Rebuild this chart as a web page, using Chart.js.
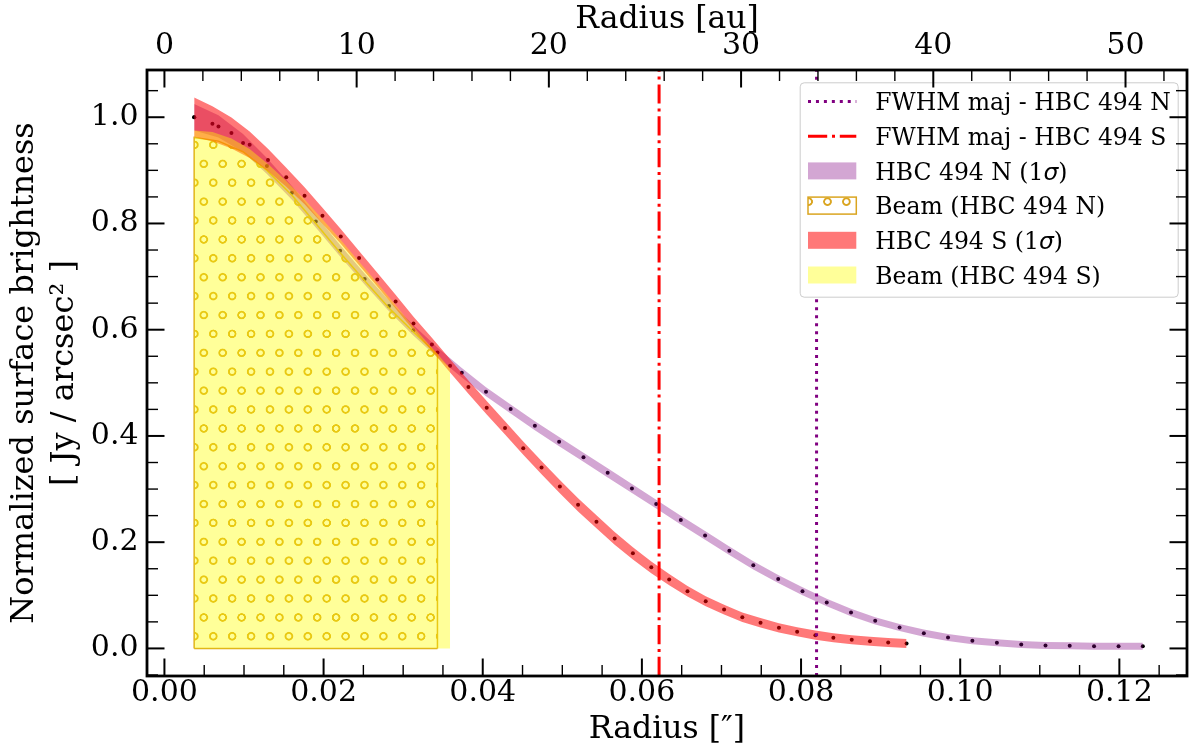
<!DOCTYPE html>
<html><head><meta charset="utf-8">
<script src="https://cdn.jsdelivr.net/npm/chart.js@4.4.1/dist/chart.umd.min.js"></script>
<style>html,body{margin:0;padding:0;background:#fff;}canvas{display:block;}</style>
</head><body>
<canvas id="c" width="1191" height="750"></canvas>
<script>
const FONT = 'DejaVu Serif';
// ---- axis ranges / ticks ----
const X_MIN = -0.00219, X_MAX = 0.1285;
const Y_MIN = -0.0519, Y_MAX = 1.0889;
const AU_PER_ARCSEC = 414;
const xTickValues = [0, 0.02, 0.04, 0.06, 0.08, 0.10, 0.12];
const xTickLabels = ['0.00', '0.02', '0.04', '0.06', '0.08', '0.10', '0.12'];
const auTickValues = [0, 10, 20, 30, 40, 50];
const auTickLabels = ['0', '10', '20', '30', '40', '50'];
const yTickValues = [0, 0.2, 0.4, 0.6, 0.8, 1.0];
const yTickLabels = ['0.0', '0.2', '0.4', '0.6', '0.8', '1.0'];
const xMinorStep = 0.005, auMinorStep = 2, yMinorStep = 0.05;

// ---- HBC 494 N profile ----
const xN = [0.00374, 0.00679, 0.00988, 0.01288, 0.01602, 0.01902, 0.02208, 0.02516, 0.02822, 0.03127,
            0.03431, 0.03737, 0.04041, 0.04351, 0.04655, 0.0496, 0.05266, 0.0557, 0.05875, 0.0618,
            0.06489, 0.06794, 0.07099, 0.074, 0.07713, 0.08018, 0.08323, 0.08628, 0.08932, 0.09238,
            0.09543, 0.09847, 0.10153, 0.10461, 0.10767, 0.11072, 0.11376, 0.11682, 0.1199, 0.12295];
const yN = [1.0, 0.9827, 0.9515, 0.9083, 0.8576, 0.8038, 0.7487, 0.6955, 0.6448, 0.5991,
            0.5571, 0.5189, 0.4832, 0.4507, 0.4194, 0.3893, 0.36, 0.3305, 0.3011, 0.2717,
            0.2417, 0.2128, 0.184, 0.1565, 0.1308, 0.1077, 0.0864, 0.0676, 0.052, 0.0394,
            0.0288, 0.0207, 0.0144, 0.0107, 0.0075, 0.0056, 0.005, 0.0043, 0.0043, 0.0043];
const sigN = [0.025, 0.021, 0.017, 0.015, 0.013, 0.0115, 0.0108, 0.0104, 0.0101, 0.0098,
              0.0094, 0.009, 0.0087, 0.0085, 0.0085, 0.0085, 0.0085, 0.0085, 0.0085, 0.0084,
              0.0083, 0.0082, 0.008, 0.0078, 0.0076, 0.0074, 0.0072, 0.007, 0.0069, 0.0068,
              0.0067, 0.0066, 0.0066, 0.0066, 0.0066, 0.0066, 0.0066, 0.0066, 0.0066, 0.0066];
// ---- HBC 494 S profile ----
const xS = [0.00374, 0.00603, 0.00842, 0.01071, 0.01301, 0.01531, 0.01761, 0.01986, 0.02216, 0.02446,
            0.02675, 0.02905, 0.0313, 0.03361, 0.0359, 0.0382, 0.0405, 0.0428, 0.04509, 0.04739,
            0.04969, 0.05198, 0.05429, 0.05658, 0.05887, 0.06118, 0.06343, 0.06573, 0.06802, 0.07033,
            0.07262, 0.07491, 0.07722, 0.07951, 0.0818, 0.08406, 0.08637, 0.08866, 0.09095, 0.09326];
const yS = [1.0, 0.9878, 0.9703, 0.9483, 0.9196, 0.8869, 0.852, 0.8144, 0.7756, 0.7349,
            0.6943, 0.653, 0.6117, 0.5722, 0.532, 0.492, 0.4531, 0.415, 0.3769, 0.3405,
            0.3048, 0.2704, 0.2385, 0.2071, 0.179, 0.1527, 0.1296, 0.1076, 0.0888, 0.0732,
            0.0588, 0.0483, 0.0389, 0.0314, 0.025, 0.0201, 0.0163, 0.0137, 0.0113, 0.0094];
const sigS = [0.037, 0.033, 0.029, 0.025, 0.021, 0.018, 0.016, 0.015, 0.014, 0.0135,
              0.013, 0.013, 0.0128, 0.0125, 0.0125, 0.0125, 0.0125, 0.0125, 0.0125, 0.0125,
              0.0125, 0.0125, 0.0122, 0.012, 0.0115, 0.011, 0.0105, 0.01, 0.0095, 0.0092,
              0.009, 0.0088, 0.0087, 0.0086, 0.0086, 0.0085, 0.0085, 0.0085, 0.0085, 0.0085];
// ---- beams (top of the beam profile at the first radii of each source) ----
const beamNTop = [0.962, 0.955, 0.935, 0.900, 0.853, 0.800, 0.745, 0.692, 0.641, 0.596, 0.553];
const beamSTop = [0.975, 0.972, 0.960, 0.940, 0.912, 0.880, 0.845, 0.808, 0.769, 0.728,
                  0.688, 0.646, 0.605, 0.566, 0.527];
// ---- FWHM major axis ----
const fwhmN = 0.08195, fwhmS = 0.06216;

const legendLabels = ['FWHM maj - HBC 494 N', 'FWHM maj - HBC 494 S', 'HBC 494 N (1σ)',
                      'Beam (HBC 494 N)', 'HBC 494 S (1σ)', 'Beam (HBC 494 S)'];

// ---- colours ----
const C_PURPLE = '#800080', C_RED = '#ff0000', C_GOLD = 'rgb(218,165,32)';
const C_NBAND = 'rgba(128,0,128,0.35)', C_SBAND = 'rgba(255,0,0,0.53)', C_BEAMS = 'rgba(255,255,0,0.4)';
const DOT_DASH = [3, 4.95], DASH_DOT = [19.2, 4.8, 3, 4.8];

const ctx0 = document.getElementById('c').getContext('2d');
function makeHatch(ctx) {
  const t = document.createElement('canvas'); t.width = 38; t.height = 76;
  const g = t.getContext('2d');
  g.strokeStyle = C_GOLD; g.lineWidth = 3.8;
  const pts = [[10.8, 63.2], [29.7, 25.4]];
  for (const [cx, cy] of pts) for (const dx of [-38, 0, 38]) for (const dy of [-76, 0, 76]) {
    g.beginPath(); g.arc(cx + dx, cy + dy, 6.8, 0, Math.PI * 2); g.stroke();
  }
  const p = ctx.createPattern(t, 'repeat');
  try { p.setTransform(new DOMMatrix().scale(18.9 / 38, 37.8 / 76)); } catch (e) {}
  return p;
}
const hatch = makeHatch(ctx0);

const band = (xs, ys, ss, sign) => xs.map((x, i) => ({x, y: ys[i] + sign * ss[i]}));
const beamPts = (xs, tops) => [{x: xs[0], y: 0}, ...tops.map((v, i) => ({x: xs[i], y: v})), {x: xs[tops.length - 1], y: 0}];
const base = {xAxisID: 'x', yAxisID: 'y', pointRadius: 0, borderWidth: 0, fill: false, tension: 0};

const datasets = [
  {...base, data: [{x: fwhmN, y: Y_MIN}, {x: fwhmN, y: Y_MAX}], borderColor: C_PURPLE, borderWidth: 3, borderDash: DOT_DASH},
  {...base, data: [{x: fwhmS, y: Y_MIN}, {x: fwhmS, y: Y_MAX}], borderColor: C_RED, borderWidth: 3, borderDash: DASH_DOT},
  {...base, data: beamPts(xS, beamSTop), backgroundColor: C_BEAMS, fill: 'origin'},
  {...base, data: band(xS, yS, sigS, 1), backgroundColor: C_SBAND, fill: '+1'},
  {...base, data: band(xS, yS, sigS, -1)},
  {...base, data: [{x: xN[0], y: 0}, {x: xN[beamNTop.length - 1], y: 0}], borderColor: C_GOLD, borderWidth: 1.5},
  {...base, data: beamPts(xN, beamNTop), backgroundColor: hatch, borderColor: C_GOLD, borderWidth: 1.5, fill: 'origin'},
  {...base, data: band(xN, yN, sigN, 1), backgroundColor: C_NBAND, fill: '+1'},
  {...base, data: band(xN, yN, sigN, -1)},
  {...base, data: xS.map((x, i) => ({x, y: yS[i]})), showLine: false, pointRadius: 2, pointBackgroundColor: '#000', pointBorderWidth: 0},
  {...base, data: xN.map((x, i) => ({x, y: yN[i]})), showLine: false, pointRadius: 2, pointBackgroundColor: '#000', pointBorderWidth: 0},
];

function drawLegend(ctx, a) {
  const W = 378, H = 214.4;
  const bx = a.right - 9.3 - W, by = a.top + 12.3;
  ctx.save();
  ctx.beginPath();
  if (ctx.roundRect) ctx.roundRect(bx + 0.5, by + 0.5, W, H, 4); else ctx.rect(bx + 0.5, by + 0.5, W, H);
  ctx.fillStyle = '#fff'; ctx.fill();
  ctx.strokeStyle = '#cccccc'; ctx.lineWidth = 1; ctx.stroke();
  const hx0 = bx + 8.3, hx1 = bx + 56.6, tx = bx + 75.6;
  const kinds = [
    {line: C_PURPLE, dash: DOT_DASH},
    {line: C_RED, dash: DASH_DOT},
    {fill: C_NBAND},
    {fill: hatch, edge: C_GOLD},
    {fill: C_SBAND},
    {fill: C_BEAMS},
  ];
  legendLabels.forEach((lab, i) => {
    const cy = by + 19.2 + i * 34.7;
    const k = kinds[i];
    if (k.line) {
      ctx.save(); ctx.strokeStyle = k.line; ctx.lineWidth = 3; ctx.setLineDash(k.dash); ctx.lineCap = 'butt';
      ctx.beginPath(); ctx.moveTo(hx0, cy); ctx.lineTo(hx1, cy); ctx.stroke(); ctx.restore();
    } else {
      ctx.fillStyle = k.fill; ctx.fillRect(hx0, cy - 8.5, hx1 - hx0, 17);
      if (k.edge) { ctx.strokeStyle = k.edge; ctx.lineWidth = 1.5; ctx.strokeRect(hx0, cy - 8.5, hx1 - hx0, 17); }
    }
    ctx.fillStyle = '#000'; ctx.textBaseline = 'alphabetic'; ctx.textAlign = 'left';
    let x = tx; const yb = cy + 8.6;
    for (const part of lab.split(/(σ)/)) {
      if (!part) continue;
      ctx.font = part === 'σ' ? 'italic 23.5px "DejaVu Sans"' : '23.5px "DejaVu Serif"';
      ctx.fillText(part, x, yb); x += ctx.measureText(part).width;
    }
  });
  ctx.restore();
}

const framePlugin = {
  id: 'frame',
  afterDatasetsDraw(chart) {
    const {ctx, chartArea: a, scales} = chart;
    drawLegend(ctx, a);
    ctx.save();
    ctx.strokeStyle = '#000'; ctx.lineCap = 'butt';
    const seg = (x1, y1, x2, y2, w) => { ctx.lineWidth = w; ctx.beginPath(); ctx.moveTo(x1, y1); ctx.lineTo(x2, y2); ctx.stroke(); };
    const MAJ = 17.5, MIN = 11, WMAJ = 2, WMIN = 1.4;
    const near = (v, arr, eps) => arr.some(t => Math.abs(t - v) < eps);
    xTickValues.forEach(v => { const p = scales.x.getPixelForValue(v); seg(p, a.bottom, p, a.bottom - MAJ, WMAJ); });
    for (let k = Math.ceil(X_MIN / xMinorStep); k * xMinorStep <= X_MAX; k++) {
      const v = k * xMinorStep; if (near(v, xTickValues, 1e-9)) continue;
      const p = scales.x.getPixelForValue(v); seg(p, a.bottom, p, a.bottom - MIN, WMIN);
    }
    auTickValues.forEach(v => { const p = scales.x2.getPixelForValue(v); seg(p, a.top, p, a.top + MAJ, WMAJ); });
    for (let k = Math.ceil(X_MIN * AU_PER_ARCSEC / auMinorStep); k * auMinorStep <= X_MAX * AU_PER_ARCSEC; k++) {
      const v = k * auMinorStep; if (near(v, auTickValues, 1e-9)) continue;
      const p = scales.x2.getPixelForValue(v); seg(p, a.top, p, a.top + MIN, WMIN);
    }
    yTickValues.forEach(v => { const p = scales.y.getPixelForValue(v);
      seg(a.left, p, a.left + MAJ, p, WMAJ); seg(a.right, p, a.right - MAJ, p, WMAJ); });
    for (let k = Math.ceil(Y_MIN / yMinorStep); k * yMinorStep <= Y_MAX; k++) {
      const v = k * yMinorStep; if (near(v, yTickValues, 1e-9)) continue;
      const p = scales.y.getPixelForValue(v);
      seg(a.left, p, a.left + MIN, p, WMIN); seg(a.right, p, a.right - MIN, p, WMIN);
    }
    ctx.lineWidth = 2.8;
    ctx.strokeRect(a.left, a.top, a.right - a.left, a.bottom - a.top);
    ctx.restore();
  }
};

const tickFont = {family: FONT, size: 30, lineHeight: 1};
const titleFont = {family: FONT, size: 31.5, lineHeight: 1};
new Chart(ctx0, {
  type: 'line',
  data: {datasets},
  options: {
    responsive: false, animation: false, events: [],
    layout: {padding: {left: 0, right: 1, top: 0, bottom: 0}},
    plugins: {legend: {display: false}, tooltip: {enabled: false}},
    scales: {
      x: {
        type: 'linear', axis: 'x', position: 'bottom', min: X_MIN, max: X_MAX,
        afterBuildTicks: s => { s.ticks = xTickValues.map(v => ({value: v})); },
        afterFit: s => { s.height = 74; },
        ticks: {autoSkip: false, maxRotation: 0, minRotation: 0, padding: 2.7, color: '#000', font: tickFont,
                callback: (v, i) => xTickLabels[i]},
        grid: {display: false, drawTicks: false}, border: {display: false},
        title: {display: true, text: 'Radius [″]', color: '#000', font: titleFont, padding: {top: 0, bottom: 4}}
      },
      x2: {
        type: 'linear', axis: 'x', position: 'top', min: X_MIN * AU_PER_ARCSEC, max: X_MAX * AU_PER_ARCSEC,
        afterBuildTicks: s => { s.ticks = auTickValues.map(v => ({value: v})); },
        afterFit: s => { s.height = 70; },
        ticks: {autoSkip: false, maxRotation: 0, minRotation: 0, padding: 8.3, color: '#000', font: tickFont,
                callback: (v, i) => auTickLabels[i]},
        grid: {display: false, drawTicks: false}, border: {display: false},
        title: {display: true, text: 'Radius [au]', color: '#000', font: titleFont, padding: {top: 4.5, bottom: 0}}
      },
      y: {
        type: 'linear', axis: 'y', position: 'left', min: Y_MIN, max: Y_MAX,
        afterBuildTicks: s => { s.ticks = yTickValues.map(v => ({value: v})); },
        afterFit: s => { s.width = 147; },
        ticks: {autoSkip: false, padding: 8.5, color: '#000', font: tickFont, callback: (v, i) => yTickLabels[i]},
        grid: {display: false, drawTicks: false}, border: {display: false},
        title: {display: true, text: ['Normalized surface brightness', '[ Jy / arcsec² ]'], color: '#000',
                font: {family: FONT, size: 32, lineHeight: 40 / 32}, padding: {top: 5, bottom: 0}}
      }
    }
  },
  plugins: [framePlugin]
});
</script>
</body></html>
